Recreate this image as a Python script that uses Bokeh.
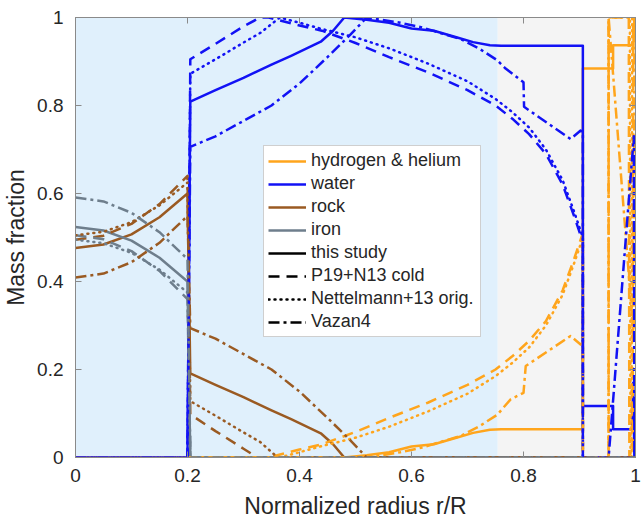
from bokeh.plotting import figure
from bokeh.models import (Range1d, BoxAnnotation, LinearAxis, FixedTicker,
                          CustomJSTickFormatter, Legend, LegendItem)
from bokeh.embed import file_html
from bokeh.resources import INLINE

# ---------------- data ----------------
# core region (r/R 0 .. 0.2): rock and iron mass fractions
r_core = [0.0, 0.05, 0.10, 0.15, 0.20]
rock_core_this = [0.476, 0.484, 0.507, 0.546, 0.600]
iron_core_this = [0.524, 0.516, 0.493, 0.454, 0.400]
rock_core_p19 = [0.495, 0.504, 0.531, 0.576, 0.640]
iron_core_p19 = [0.505, 0.496, 0.469, 0.424, 0.360]
rock_core_n13 = [0.505, 0.513, 0.535, 0.573, 0.625]
iron_core_n13 = [0.495, 0.487, 0.465, 0.427, 0.375]
rock_core_vaz = [0.409, 0.418, 0.444, 0.488, 0.549]
iron_core_vaz = [0.591, 0.582, 0.556, 0.512, 0.451]

# this study (solid)
r_rock_this = [0.205, 0.25, 0.30, 0.35, 0.385, 0.438, 0.46, 0.48, 1.0]
rock_this = [0.191, 0.165, 0.137, 0.107, 0.087, 0.055, 0.030, 0.0, 0.0]
r_h2o_this = [0.0, 0.2, 0.205, 0.25, 0.30, 0.35, 0.385, 0.438, 0.46, 0.48, 0.52, 0.56, 0.60,
              0.64, 0.68, 0.71, 0.74, 0.76, 0.906, 0.906, 0.96, 0.96, 0.994, 0.996, 0.998, 1.0]
h2o_this = [0.0, 0.0, 0.809, 0.835, 0.863, 0.893, 0.913, 0.945, 0.970, 1.0, 0.995, 0.988, 0.975,
            0.970, 0.955, 0.944, 0.937, 0.936, 0.936, 0.117, 0.117, 0.064, 0.064, 0.17, 0.0, 0.0]
r_hhe_this = [0.0, 0.48, 0.52, 0.56, 0.60, 0.64, 0.68, 0.71, 0.74, 0.76, 0.906, 0.906, 0.96,
              0.96, 0.996, 0.998, 1.0]
hhe_this = [0.0, 0.0, 0.005, 0.012, 0.025, 0.030, 0.045, 0.056, 0.063, 0.064, 0.064, 0.884,
            0.884, 0.937, 0.937, 1.0, 1.0]

# P19+N13 cold (dashed)
r_rock_p19 = [0.205, 0.25, 0.30, 0.325, 1.0]
rock_p19 = [0.098, 0.060, 0.020, 0.0, 0.0]
r_h2o_p19 = [0.0, 0.2, 0.205, 0.25, 0.30, 0.33, 0.345, 0.40, 0.44, 0.50, 0.56, 0.63, 0.70, 0.75,
             0.78, 0.81, 0.84, 0.87, 0.89, 0.906, 0.906, 1.0]
h2o_p19 = [0.0, 0.0, 0.905, 0.940, 0.980, 1.0, 1.0, 0.982, 0.970, 0.942, 0.910, 0.875, 0.835,
           0.800, 0.770, 0.735, 0.690, 0.620, 0.550, 0.490, 0.0, 0.0]
r_hhe_p19 = [0.0, 0.345, 0.40, 0.44, 0.50, 0.56, 0.63, 0.70, 0.75, 0.78, 0.81, 0.84, 0.87, 0.89,
             0.906, 0.906, 0.952, 0.952, 0.988, 0.989, 0.995, 0.996, 1.0]
hhe_p19 = [0.0, 0.0, 0.018, 0.030, 0.058, 0.090, 0.125, 0.165, 0.200, 0.230, 0.265, 0.310, 0.380,
           0.450, 0.510, 0.0, 0.0, 1.0, 1.0, 0.0, 0.0, 1.0, 1.0]

# Nettelmann+13 orig. (dotted)
r_rock_n13 = [0.205, 0.25, 0.30, 0.33, 0.361, 1.0]
rock_n13 = [0.128, 0.095, 0.057, 0.035, 0.0, 0.0]
r_h2o_n13 = [0.0, 0.2, 0.205, 0.25, 0.30, 0.33, 0.365, 0.40, 0.44, 0.50, 0.56, 0.63, 0.70, 0.75,
             0.78, 0.81, 0.84, 0.87, 0.89, 0.906, 0.906, 1.0]
h2o_n13 = [0.0, 0.0, 0.872, 0.905, 0.943, 0.965, 1.0, 0.988, 0.974, 0.955, 0.930, 0.895, 0.855,
           0.815, 0.785, 0.750, 0.700, 0.630, 0.560, 0.500, 0.0, 0.0]
r_hhe_n13 = [0.0, 0.365, 0.40, 0.44, 0.50, 0.56, 0.63, 0.70, 0.75, 0.78, 0.81, 0.84, 0.87, 0.89,
             0.906, 0.906, 0.952, 0.952, 0.990, 0.991, 0.993, 0.994, 1.0]
hhe_n13 = [0.0, 0.0, 0.012, 0.026, 0.045, 0.070, 0.105, 0.145, 0.185, 0.215, 0.250, 0.300, 0.370,
           0.440, 0.500, 0.0, 0.0, 1.0, 1.0, 0.0, 0.0, 1.0, 1.0]

# Vazan4 (dash-dot)
r_rock_vaz = [0.205, 0.25, 0.30, 0.35, 0.40, 0.45, 0.49, 0.52, 1.0]
rock_vaz = [0.294, 0.270, 0.235, 0.200, 0.150, 0.090, 0.040, 0.0, 0.0]
r_h2o_vaz = [0.0, 0.2, 0.205, 0.25, 0.30, 0.35, 0.40, 0.45, 0.49, 0.52, 0.58, 0.617, 0.688, 0.72,
             0.753, 0.768, 0.80, 0.801, 0.884, 0.902, 0.906, 0.906, 0.952, 0.997, 0.998, 1.0]
h2o_vaz = [0.0, 0.0, 0.706, 0.730, 0.765, 0.800, 0.850, 0.910, 0.960, 1.0, 0.988, 0.978, 0.951,
           0.930, 0.903, 0.884, 0.853, 0.797, 0.724, 0.743, 0.740, 0.0, 0.0, 0.730, 0.0, 0.0]
r_hhe_vaz = [0.0, 0.52, 0.58, 0.617, 0.688, 0.72, 0.753, 0.777, 0.80, 0.804, 0.884, 0.902,
             0.906, 0.906, 0.952, 0.952, 0.997, 0.998, 1.0]
hhe_vaz = [0.0, 0.0, 0.012, 0.022, 0.049, 0.070, 0.097, 0.132, 0.147, 0.208, 0.276, 0.257,
           0.260, 0.0, 0.0, 1.0, 0.270, 1.0, 1.0]

x_ticks = [0, 0.2, 0.4, 0.6, 0.8, 1.0]
y_ticks = [0, 0.2, 0.4, 0.6, 0.8, 1.0]
legend_labels = ["hydrogen & helium", "water", "rock", "iron",
                 "this study", "P19+N13 cold", "Nettelmann+13 orig.", "Vazan4"]
inner_region_end = 0.754

# ---------------- styling ----------------
C_HHE = "#FFA51C"
C_H2O = "#1212F5"
C_ROCK = "#9A5A22"
C_IRON = "#6E7E8C"
FONT = "Liberation Sans"
TXT = "#262626"
AX = "#8A8A8A"
LW = 2.5
DASH = {"solid": "solid", "p19": "11 7", "n13": "1 5", "vaz": "11 4 3 4"}
CAP = {"solid": "butt", "p19": "butt", "n13": "round", "vaz": "butt"}

p = figure(width=641, height=521, x_range=Range1d(0, 1), y_range=Range1d(0, 1),
           output_backend="svg", toolbar_location=None,
           min_border_left=72, min_border_right=6, min_border_top=17, min_border_bottom=62)
p.background_fill_color = "white"
p.border_fill_color = "white"
p.outline_line_color = AX
p.outline_line_width = 1
p.grid.visible = False

p.add_layout(BoxAnnotation(left=0, right=inner_region_end, fill_color="#E0F0FC",
                           fill_alpha=1, line_color=None, level="underlay"))
p.add_layout(BoxAnnotation(left=inner_region_end, right=1, fill_color="#F4F4F4",
                           fill_alpha=1, line_color=None, level="underlay"))

fmt = CustomJSTickFormatter(code="return tick.toFixed(1).replace(/\\.0$/, '');")
for ax, ticks in ((p.xaxis[0], x_ticks), (p.yaxis[0], y_ticks)):
    ax.ticker = FixedTicker(ticks=ticks)
    ax.formatter = fmt
    ax.major_tick_in = 6
    ax.major_tick_out = 0
    ax.minor_tick_out = 0
    ax.minor_tick_in = 0
    ax.minor_tick_line_color = None
    ax.axis_line_color = AX
    ax.major_tick_line_color = AX
    ax.major_label_text_font = FONT
    ax.major_label_text_font_size = "19px"
    ax.major_label_text_color = TXT
    ax.axis_label_text_font = FONT
    ax.axis_label_text_font_size = "23px"
    ax.axis_label_text_font_style = "normal"
    ax.axis_label_text_color = TXT
p.xaxis.axis_label = "Normalized radius r/R"
p.yaxis.axis_label = "Mass fraction"
p.xaxis.major_label_standoff = 11
p.yaxis.major_label_standoff = 12
p.xaxis.axis_label_standoff = 8
p.yaxis.axis_label_standoff = 5

blank = CustomJSTickFormatter(code="return '';")
for loc, ticks in (("above", x_ticks), ("right", y_ticks)):
    a = LinearAxis(ticker=FixedTicker(ticks=ticks), formatter=blank,
                   major_tick_in=6, major_tick_out=0, minor_tick_line_color=None,
                   minor_tick_out=0, minor_tick_in=0, axis_line_color=AX,
                   major_tick_line_color=AX,
                   major_label_text_font_size="1px", major_label_standoff=0)
    p.add_layout(a, loc)


def ln(x, y, color, style):
    return p.line(x, y, line_color=color, line_width=LW, line_dash=DASH[style],
                  line_cap=CAP[style], line_join="round")


models = [
    ("solid", r_hhe_this, hhe_this, r_h2o_this, h2o_this, r_rock_this, rock_this,
     rock_core_this, iron_core_this),
    ("p19", r_hhe_p19, hhe_p19, r_h2o_p19, h2o_p19, r_rock_p19, rock_p19,
     rock_core_p19, iron_core_p19),
    ("n13", r_hhe_n13, hhe_n13, r_h2o_n13, h2o_n13, r_rock_n13, rock_n13,
     rock_core_n13, iron_core_n13),
    ("vaz", r_hhe_vaz, hhe_vaz, r_h2o_vaz, h2o_vaz, r_rock_vaz, rock_vaz,
     rock_core_vaz, iron_core_vaz),
]
color_renderers = {}
for style, rh, yh, rw, yw, rr, yr, rock_c, iron_c in models:
    r1 = ln(rh, yh, C_HHE, style)
    r2 = ln(rw, yw, C_H2O, style)
    r3 = ln(r_core + rr, rock_c + yr, C_ROCK, style)
    r4 = ln(r_core + [0.205, 1.0], iron_c + [0.0, 0.0], C_IRON, style)
    if style == "solid":
        color_renderers = {"hhe": r1, "h2o": r2, "rock": r3, "iron": r4}

# legend-only renderers for the line styles (placed outside the visible range)
style_renderers = []
for style in ("solid", "p19", "n13", "vaz"):
    style_renderers.append(ln([-2, -1.5], [-2, -2], "black", style))

items = [LegendItem(label=legend_labels[0], renderers=[color_renderers["hhe"]]),
         LegendItem(label=legend_labels[1], renderers=[color_renderers["h2o"]]),
         LegendItem(label=legend_labels[2], renderers=[color_renderers["rock"]]),
         LegendItem(label=legend_labels[3], renderers=[color_renderers["iron"]])]
for lab, r in zip(legend_labels[4:], style_renderers):
    items.append(LegendItem(label=lab, renderers=[r]))

leg = Legend(items=items, location=(188, 120), orientation="vertical",
             label_text_font=FONT, label_text_font_size="18px", label_text_color=TXT,
             glyph_width=38, glyph_height=20, label_height=20, label_standoff=5,
             label_width=165, spacing=2, padding=4, margin=0,
             border_line_color="#A0A0A0", border_line_width=1,
             background_fill_color="white", background_fill_alpha=1)
p.add_layout(leg, "center")

open("out.html", "w").write(file_html(p, INLINE))
